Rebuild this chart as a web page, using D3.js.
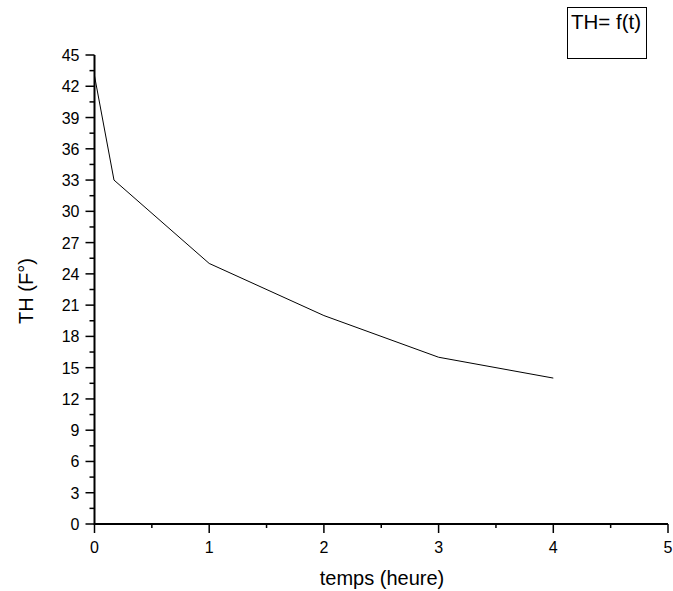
<!DOCTYPE html>
<html><head><meta charset="utf-8">
<script src="https://d3js.org/d3.v7.min.js"></script>
<style>body{margin:0;background:#fff}svg{display:block}text{font-family:"Liberation Sans",Arial,sans-serif;fill:#000}</style>
</head><body>
<script>
const timeValues = [0, 0.17, 1, 2, 3, 4];
const thValues = [43, 33, 25, 20, 16, 14];
const xTicks = [0, 1, 2, 3, 4, 5];
const yTicks = [0, 3, 6, 9, 12, 15, 18, 21, 24, 27, 30, 33, 36, 39, 42, 45];
const legendLabel = "TH= f(t)";
const xTitle = "temps (heure)";
const yTitle = "TH (F°)";

const W = 673, H = 591;
const svg = d3.select("body").append("svg").attr("width", W).attr("height", H);
const x = d3.scaleLinear().domain([0, 5]).range([94.5, 668]);
const y = d3.scaleLinear().domain([0, 45]).range([524, 55]);

// x axis
const gx = svg.append("g").attr("transform", `translate(0,${y(0)})`);
gx.append("line").attr("x1", x(0)).attr("x2", x(5)).attr("stroke", "#000").attr("stroke-width", 2);
gx.selectAll(".maj").data(xTicks).join("line").attr("class","maj").attr("x1", d => x(d)).attr("x2", d => x(d)).attr("y1", 0).attr("y2", 9).attr("stroke", "#000").attr("stroke-width", 1.5);
gx.selectAll(".min").data(d3.range(0.5, 5, 1)).join("line").attr("class","min").attr("x1", d => x(d)).attr("x2", d => x(d)).attr("y1", 0).attr("y2", 4).attr("stroke", "#000").attr("stroke-width", 1.5);
gx.selectAll("text").data(xTicks).join("text").attr("x", d => x(d)).attr("y", 29).attr("text-anchor", "middle").attr("font-size", 16).text(d => d);

// y axis
const gy = svg.append("g").attr("transform", `translate(${x(0)},0)`);
gy.append("line").attr("y1", y(0)+1).attr("y2", y(45)).attr("stroke", "#000").attr("stroke-width", 2);
gy.selectAll(".maj").data(yTicks).join("line").attr("class","maj").attr("y1", d => y(d)).attr("y2", d => y(d)).attr("x1", 0).attr("x2", -9).attr("stroke", "#000").attr("stroke-width", 1.5);
gy.selectAll(".min").data(d3.range(1.5, 45, 3)).join("line").attr("class","min").attr("y1", d => y(d)).attr("y2", d => y(d)).attr("x1", 0).attr("x2", -5).attr("stroke", "#000").attr("stroke-width", 1.5);
gy.selectAll("text").data(yTicks).join("text").attr("x", -15).attr("y", d => y(d) + 6).attr("text-anchor", "end").attr("font-size", 16).text(d => d);

// line
const line = d3.line().x((d, i) => x(timeValues[i])).y(d => y(d));
svg.append("path").datum(thValues).attr("d", line).attr("fill", "none").attr("stroke", "#000").attr("stroke-width", 1);

// titles
svg.append("text").attr("x", 382).attr("y", 585).attr("text-anchor", "middle").attr("font-size", 20).text(xTitle);
svg.append("text").attr("transform", "translate(33,291) rotate(-90)").attr("text-anchor", "middle").attr("font-size", 20).text(yTitle);

// legend
svg.append("rect").attr("x", 567.5).attr("y", 7.5).attr("width", 79).attr("height", 51).attr("fill", "none").attr("stroke", "#000").attr("stroke-width", 1);
svg.append("text").attr("x", 571).attr("y", 29).attr("font-size", 20.5).text(legendLabel);
</script>
</body></html>
